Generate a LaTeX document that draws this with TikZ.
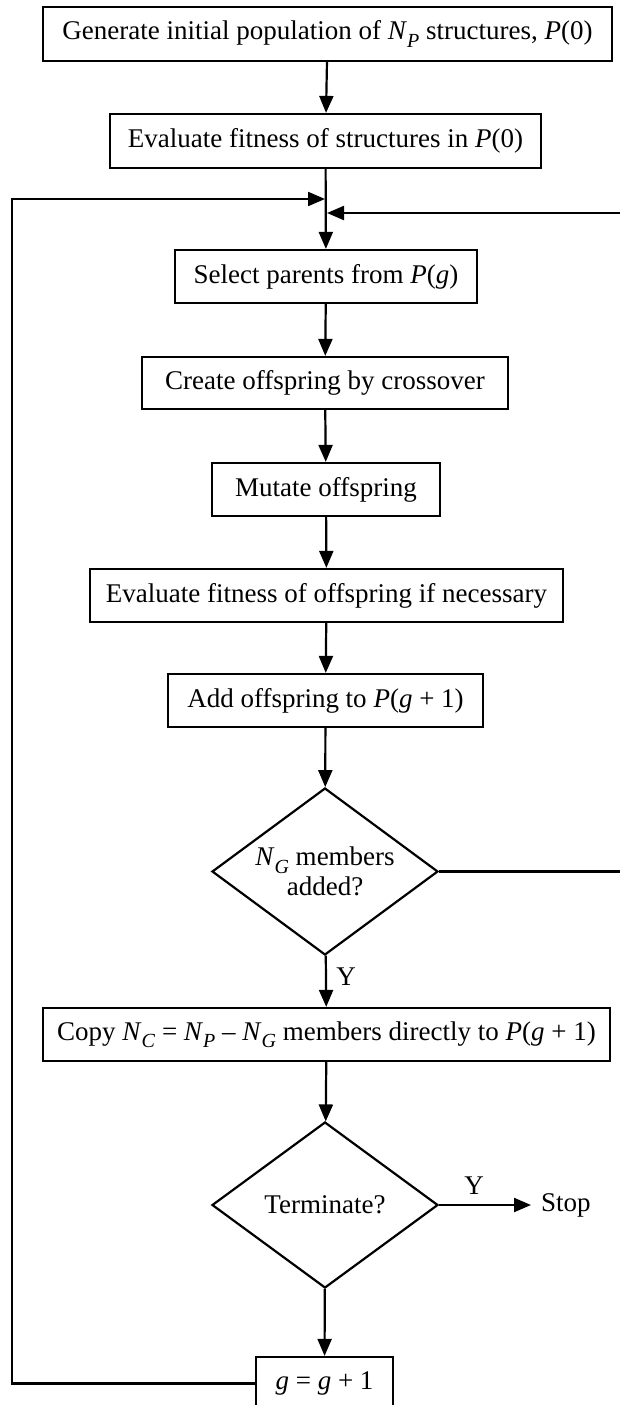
\documentclass[tikz,border=0pt]{standalone}
\usepackage{fontspec}
\setmainfont{Liberation Serif}
\usetikzlibrary{shapes.geometric,arrows.meta}
\newcommand\vsub[2]{\textit{#1}\raisebox{-0.28em}{\fontsize{20}{20}\selectfont\textit{#2}}}
\begin{document}
\begin{tikzpicture}[x=1pt,y=-1pt,
  every node/.style={font=\fontsize{27}{30}\selectfont},
  boxnode/.style={draw,line width=2.2pt,inner sep=0pt,align=center},
  decnode/.style={draw,diamond,line width=2.2pt,inner sep=0pt,aspect=1.35,align=center},
  arr/.style={line width=2.2pt,-{Triangle[length=17pt,width=14pt]}}]
\fill[white] (0,0) rectangle (619,1405);
\useasboundingbox (0,0) rectangle (619,1405);
\node[boxnode,minimum width=569pt,minimum height=54pt] (b1) at (327.5,34) {Generate initial population of \vsub{N}{P} structures, \textit{P}(0)};
\node[boxnode,minimum width=431pt,minimum height=54pt] (b2) at (325.5,141) {Evaluate fitness of structures in \textit{P}(0)};
\node[boxnode,minimum width=302pt,minimum height=53pt] (b3) at (326,276.5) {Select parents from \textit{P}(\textit{g})};
\node[boxnode,minimum width=366pt,minimum height=52pt] (b4) at (325,383) {Create offspring by crossover};
\node[boxnode,minimum width=228pt,minimum height=53pt] (b5) at (326,489.5) {Mutate offspring};
\node[boxnode,minimum width=473pt,minimum height=53pt] (b6) at (326.5,595.5) {Evaluate fitness of offspring if necessary};
\node[boxnode,minimum width=315pt,minimum height=53pt] (b7) at (325.5,700.5) {Add offspring to \textit{P}(\textit{g} + 1)};
\node[decnode,minimum width=226pt,minimum height=167pt] (d1) at (325,871.5) {\vsub{N}{G} members\\added?};
\node[boxnode,minimum width=567pt,minimum height=53pt] (b8) at (326.5,1034.5) {Copy \vsub{N}{C} = \vsub{N}{P} – \vsub{N}{G} members directly to \textit{P}(\textit{g} + 1)};
\node[decnode,minimum width=226pt,minimum height=166pt] (d2) at (325,1205) {Terminate?};
\node[boxnode,minimum width=137pt,minimum height=53pt] (b9) at (324.5,1383.5) {\textit{g} = \textit{g} + 1};
\node[anchor=west,inner sep=0pt] (stop) at (541,1205) {Stop};
\node (y1) at (346,977) {Y};
\node (y2) at (474,1186) {Y};
\coordinate (lc) at (12,199);
\coordinate (j1) at (325,199);
\coordinate (rc) at (621,213);
\coordinate (j2) at (327,213);
\draw[arr] (b1) -- (b2);
\draw[arr] (b2) -- (b3);
\draw[arr] (b3) -- (b4);
\draw[arr] (b4) -- (b5);
\draw[arr] (b5) -- (b6);
\draw[arr] (b6) -- (b7);
\draw[arr] (b7) -- (d1);
\draw[arr] (d1) -- (b8);
\draw[arr] (b8) -- (d2);
\draw[arr] (d2) -- (b9);
\draw[arr,shorten >=10pt] (d2.east) -- (stop.west);
\draw[arr] (b9.west) -| (lc) -- (j1);
\draw[arr] (d1.east) -| (rc) -- (j2);
\end{tikzpicture}
\end{document}
